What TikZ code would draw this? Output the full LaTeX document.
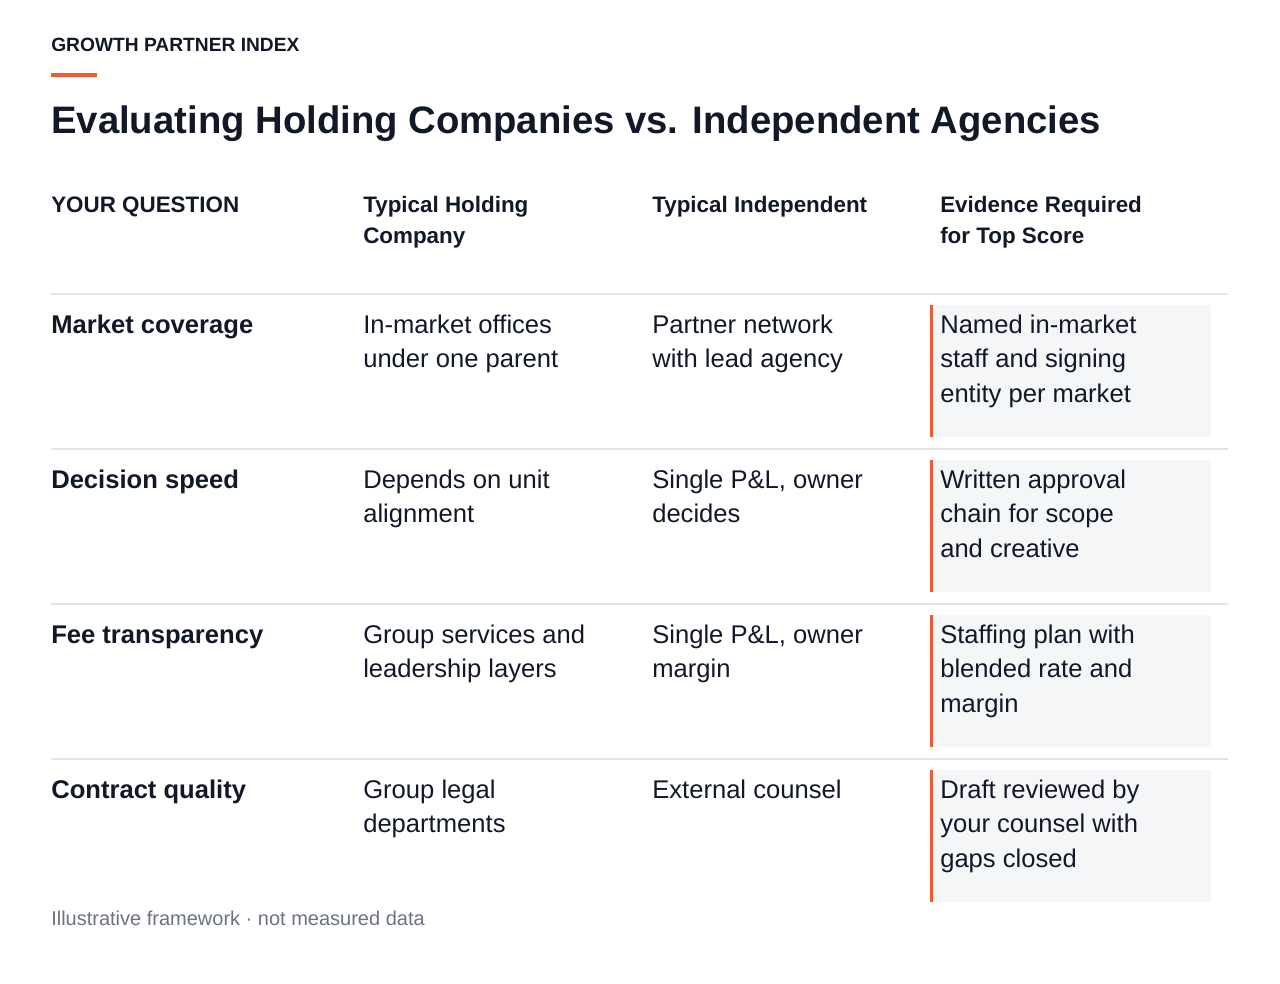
\documentclass[tikz,border=0pt]{standalone}
\usepackage{fontspec}
\setmainfont{Liberation Sans}
\definecolor{ink}{HTML}{111827}
\definecolor{acc}{HTML}{F05A35}
\definecolor{rule}{HTML}{E3E5E8}
\definecolor{boxbg}{HTML}{F5F6F8}
\definecolor{foot}{HTML}{6B7280}
\newcommand{\mlines}[1]{\begin{tabular}[t]{@{}l@{}}#1\end{tabular}}
\begin{document}
\begin{tikzpicture}[x=0.75pt,y=-0.75pt,
  txt/.style={anchor=base west,inner sep=0pt,text=ink},
  body/.style={txt,font=\fontsize{19.2}{26}\selectfont},
  bold/.style={body,font=\fontsize{19.2}{26}\selectfont\bfseries},
  head/.style={txt,font=\fontsize{16.8}{23}\selectfont\bfseries},
  rl/.style={draw=rule,line width=1.5pt}]
\useasboundingbox (0,0) rectangle (1280,984);
\node[txt,font=\fontsize{14.4}{16}\selectfont\bfseries] (kick) at (51,52) {GROWTH PARTNER INDEX};
\fill[acc] (51,73) rectangle (97,77);
\node[txt,font=\fontsize{28.7}{34}\selectfont\bfseries] (title) at (51,134) {Evaluating Holding Companies vs. Independent Agencies};
\node[head] (h1) at (51,213) {\mlines{YOUR QUESTION}};
\node[head] (h2) at (363,213) {\mlines{Typical Holding\\Company}};
\node[head] (h3) at (652,213) {\mlines{Typical Independent}};
\node[head] (h4) at (940,213) {\mlines{Evidence Required\\for Top Score}};
\foreach \y in {294,449,604,759} \draw[rl] (51,\y) -- (1228,\y);
\foreach \t in {305,460,615,770}{
  \fill[boxbg] (930,\t) rectangle (1211,\t+132);
  \fill[acc] (930,\t) rectangle (933,\t+132);}
\node[bold] (r1a) at (51,333) {Market coverage};
\node[body] (r1b) at (363,333) {\mlines{In-market offices\\under one parent}};
\node[body] (r1c) at (652,333) {\mlines{Partner network\\with lead agency}};
\node[body] (r1d) at (940,333) {\mlines{Named in-market\\staff and signing\\entity per market}};
\node[bold] (r2a) at (51,488) {Decision speed};
\node[body] (r2b) at (363,488) {\mlines{Depends on unit\\alignment}};
\node[body] (r2c) at (652,488) {\mlines{Single P\&L, owner\\decides}};
\node[body] (r2d) at (940,488) {\mlines{Written approval\\chain for scope\\and creative}};
\node[bold] (r3a) at (51,643) {Fee transparency};
\node[body] (r3b) at (363,643) {\mlines{Group services and\\leadership layers}};
\node[body] (r3c) at (652,643) {\mlines{Single P\&L, owner\\margin}};
\node[body] (r3d) at (940,643) {\mlines{Staffing plan with\\blended rate and\\margin}};
\node[bold] (r4a) at (51,798) {Contract quality};
\node[body] (r4b) at (363,798) {\mlines{Group legal\\departments}};
\node[body] (r4c) at (652,798) {\mlines{External counsel}};
\node[body] (r4d) at (940,798) {\mlines{Draft reviewed by\\your counsel with\\gaps closed}};
\node[txt,text=foot,font=\fontsize{15}{18}\selectfont] (ft) at (51,925) {Illustrative framework · not measured data};
\end{tikzpicture}
\end{document}
